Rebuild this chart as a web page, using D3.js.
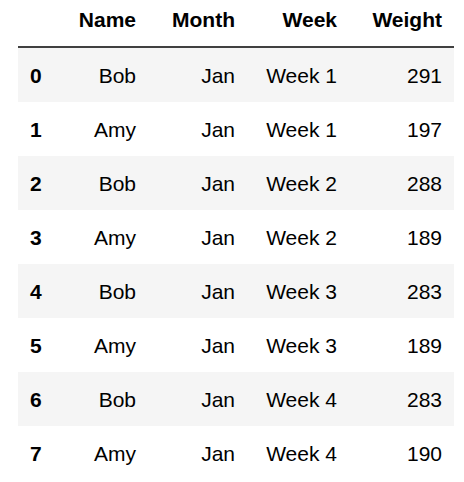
<!DOCTYPE html>
<html><head><meta charset="utf-8">
<script src="https://cdn.jsdelivr.net/npm/d3@7"></script>
<style>body{margin:0;background:#fff}</style></head>
<body><svg id="t"></svg>
<script>
const columns = ['Name', 'Month', 'Week', 'Weight'];
const names = ['Bob', 'Amy', 'Bob', 'Amy', 'Bob', 'Amy', 'Bob', 'Amy'];
const months = ['Jan', 'Jan', 'Jan', 'Jan', 'Jan', 'Jan', 'Jan', 'Jan'];
const weeks = ['Week 1', 'Week 1', 'Week 2', 'Week 2', 'Week 3', 'Week 3', 'Week 4', 'Week 4'];
const weights = [291, 197, 288, 189, 283, 189, 283, 190];

const width = 464, height = 482;
const svg = d3.select('#t').attr('width', width).attr('height', height)
  .style('font-family', '"Liberation Sans", Arial, sans-serif').style('font-size', '21px');

const rows = names.map((n, i) => [n, months[i], weeks[i], weights[i]]);
const y = d3.scaleBand().domain(d3.range(rows.length)).range([48, 48 + 54 * rows.length]);
const colRight = [136, 235, 337, 442];

// header
svg.selectAll('text.h').data(columns).join('text')
  .attr('x', (d, i) => colRight[i]).attr('y', 27)
  .attr('text-anchor', 'end').attr('font-weight', 'bold').text(d => d);
svg.append('line').attr('x1', 18).attr('x2', 454).attr('y1', 47).attr('y2', 47)
  .attr('stroke', '#000').attr('stroke-width', 1.5);

const g = svg.selectAll('g.r').data(rows).join('g')
  .attr('transform', (d, i) => `translate(0,${y(i)})`);
g.append('rect').attr('x', 18).attr('width', 436).attr('height', y.bandwidth())
  .attr('fill', (d, i) => i % 2 === 0 ? '#f5f5f5' : '#fff');
g.append('text').attr('x', 30).attr('y', y.bandwidth() / 2 + 8)
  .attr('font-weight', 'bold').text((d, i) => i);
g.selectAll('text.c').data(d => d).join('text').attr('class', 'c')
  .attr('x', (d, i) => colRight[i]).attr('y', y.bandwidth() / 2 + 8)
  .attr('text-anchor', 'end').text(d => d);
</script></body></html>
